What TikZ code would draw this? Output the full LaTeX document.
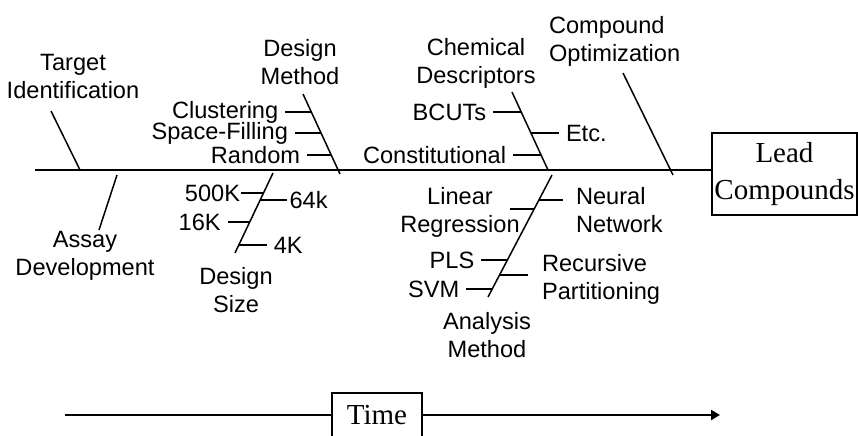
\documentclass[tikz,border=0pt]{standalone}
\usepackage{fontspec}
\setmainfont{Liberation Serif}
\setsansfont{Liberation Sans}
\usepackage{tikz}
\usetikzlibrary{arrows.meta,calc}

\begin{document}
\begin{tikzpicture}[
    x=0.5pt, y=-0.5pt,
    bone/.style={line width=0.75pt},
    lbl/.style={font=\sffamily\fontsize{11.8}{14}\selectfont, align=center},
    outnode/.style={rectangle, draw, line width=0.75pt, font=\rmfamily\fontsize{14.5}{18.5}\selectfont, align=center, inner sep=1pt},
]
\useasboundingbox (0,0) rectangle (858,435);

% Spine and result
\coordinate (spL) at (35,170);
\node[outnode, minimum width=72.5pt, minimum height=41pt] (lead) at (784.5,174) {Lead\\Compounds};
\draw[bone] (spL) -- (spL -| lead.west);

% Target identification
\node[lbl] (tgt) at (73,76) {Target\\Identification};
\coordinate (tgA) at (51,111);
\coordinate (tgB) at (80,170);
\draw[bone] (tgA) -- (tgB);

% Assay development
\node[lbl] (asy) at (85,256) {Assay\\Development};
\coordinate (asA) at (117,175);
\coordinate (asB) at (99,230);
\draw[bone] (asA) -- (asB);

% Design method
\node[lbl] (dmeth) at (300,62) {Design\\Method};
\coordinate (dmA) at (303,94);
\coordinate (dmB) at (340,174);
\draw[bone] (dmA) -- (dmB);
\coordinate (clP) at ($(dmA)!0.225!(dmB)$);
\coordinate (sfP) at ($(dmA)!0.4875!(dmB)$);
\coordinate (rnP) at ($(dmA)!0.7625!(dmB)$);
\node[lbl, anchor=east] (clust) at ($(clP)+(-26,0)$) {Clustering};
\node[lbl, anchor=east] (space) at ($(sfP)+(-26,0)$) {Space-Filling};
\node[lbl, anchor=east] (rand) at ($(rnP)+(-24,0)$) {Random};
\draw[bone] (clust.east) -- (clP);
\draw[bone] (space.east) -- (sfP);
\draw[bone] (rand.east) -- (rnP);

% Design size
\node[lbl] (dsize) at (236,290) {Design\\Size};
\coordinate (dsA) at (273,173);
\coordinate (dsB) at (235,253);
\draw[bone] (dsA) -- (dsB);
\coordinate (k500P) at ($(dsA)!0.25!(dsB)$);
\coordinate (k64P) at ($(dsA)!0.3375!(dsB)$);
\coordinate (k16P) at ($(dsA)!0.6125!(dsB)$);
\coordinate (k4P) at ($(dsA)!0.9!(dsB)$);
\node[lbl, anchor=east, inner xsep=0pt] (k500) at ($(k500P)+(-23,0)$) {500K};
\node[lbl, anchor=west, inner xsep=1pt] (k64) at ($(k64P)+(27,0)$) {64k};
\node[lbl, anchor=east] (k16) at ($(k16P)+(-22,0)$) {16K};
\node[lbl, anchor=west] (k4) at ($(k4P)+(28,0)$) {4K};
\draw[bone] (k500.east) -- (k500P);
\draw[bone] (k64P) -- (k64.west);
\draw[bone] (k16.east) -- (k16P);
\draw[bone] (k4P) -- (k4.west);

% Chemical descriptors
\node[lbl] (chem) at (476,63) {Chemical\\Descriptors};
\coordinate (chA) at (512,92);
\coordinate (chB) at (548,170);
\draw[bone] (chA) -- (chB);
\coordinate (bcP) at ($(chA)!0.256!(chB)$);
\coordinate (etP) at ($(chA)!0.526!(chB)$);
\coordinate (cnP) at ($(chA)!0.808!(chB)$);
\node[lbl, anchor=east] (bcut) at ($(bcP)+(-28,0)$) {BCUTs};
\node[lbl, anchor=west] (etc) at ($(etP)+(28,0)$) {Etc.};
\node[lbl, anchor=east] (const) at ($(cnP)+(-28,0)$) {Constitutional};
\draw[bone] (bcut.east) -- (bcP);
\draw[bone] (etP) -- (etc.west);
\draw[bone] (const.east) -- (cnP);

% Compound optimization
\node[lbl, anchor=west, align=left] (copt) at (542,41) {Compound\\Optimization};
\coordinate (coA) at (623,73);
\coordinate (coB) at (673,175);
\draw[bone] (coA) -- (coB);

% Analysis method
\node[lbl] (anmeth) at (487,335) {Analysis\\Method};
\coordinate (anA) at (552,175);
\coordinate (anB) at (488,297);
\draw[bone] (anA) -- (anB);
\coordinate (nnP) at ($(anA)!0.205!(anB)$);
\coordinate (lrP) at ($(anA)!0.279!(anB)$);
\coordinate (plP) at ($(anA)!0.697!(anB)$);
\coordinate (rcP) at ($(anA)!0.820!(anB)$);
\coordinate (svP) at ($(anA)!0.934!(anB)$);
\node[lbl, anchor=west, align=left] (neur) at (569,210) {Neural\\Network};
\node[lbl] (linr) at (460,212) {Linear\\Regression};
\node[lbl, anchor=east] (pls) at ($(plP)+(-26,0)$) {PLS};
\node[lbl, anchor=west, align=left] (recp) at (535,279) {Recursive\\Partitioning};
\node[lbl, anchor=east] (svm) at ($(svP)+(-26,0)$) {SVM};
\coordinate (nnE) at ($(nnP)+(24,0)$);
\coordinate (lrE) at ($(lrP)+(-24,0)$);
\coordinate (rcE) at ($(rcP)+(28,0)$);
\draw[bone] (nnP) -- (nnE);
\draw[bone] (lrE) -- (lrP);
\draw[bone] (pls.east) -- (plP);
\draw[bone] (rcP) -- (rcE);
\draw[bone] (svm.east) -- (svP);

% Time axis
\node[outnode, minimum width=45pt, minimum height=22pt, inner sep=0pt] (time) at (377,415) {Time};
\coordinate (tmL) at (65,415);
\coordinate (tmR) at (720,415);
\draw[bone] (tmL) -- (time.west);
\draw[line width=1.3pt, -{Triangle[length=4.5pt,width=5pt]}] (time.east) -- (tmR);

\end{tikzpicture}
\end{document}
